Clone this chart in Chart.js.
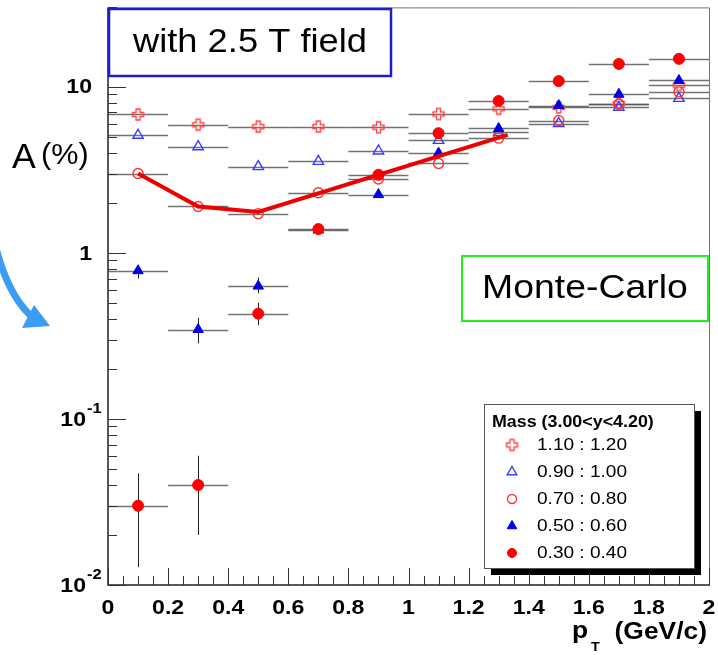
<!DOCTYPE html>
<html>
<head>
<meta charset="utf-8">
<script src="https://cdn.jsdelivr.net/npm/chart.js@4.4.1/dist/chart.umd.min.js"></script>
<style>
  html, body { margin: 0; padding: 0; background: #fff; }
  #wrap { width: 718px; height: 655px; position: relative; }
</style>
</head>
<body>
<div id="wrap"><canvas id="chart"></canvas></div>
<script>
// pT bin centres (GeV/c), each bin is 0.2 wide
const ptBins = [0.1, 0.3, 0.5, 0.7, 0.9, 1.1, 1.3, 1.5, 1.7, 1.9];
const binHalf = 0.1;

// acceptance (%) per mass window
const accM110 = [6.8, 5.9, 5.75, 5.75, 5.7, 6.85, 7.35, 7.5, 7.9, 10.2];
const accM090 = [5.1, 4.35, 3.3, 3.55, 4.1, 4.75, 5.3, 6.0, 7.5, 8.5];
const accM070 = [3.0, 1.9, 1.72, 2.3, 2.78, 3.45, 4.9, 6.25, 7.85, 9.3];
const accM050 = [0.78, 0.345, 0.63, 1.37, 2.24, 3.98, 5.6, 7.7, 9.0, 10.9];
const accM030 = [0.030, 0.040, 0.43, 1.39, 2.95, 5.25, 8.2, 10.8, 13.7, 14.7];

// visible vertical errors (null = smaller than the marker)
const errLoM050 = [0.70, 0.285, 0.57, null, null, null, null, null, null, null];
const errHiM050 = [0.84, 0.405, 0.71, null, null, null, null, null, null, null];
const errLoM030 = [0.0128, 0.020, 0.367, 1.30, null, null, null, null, null, null];
const errHiM030 = [0.047, 0.060, 0.50, 1.48, null, null, null, null, null, null];

// hand-drawn red trend line
const trendPt = [0.1, 0.3, 0.5, 1.33];
const trendAcc = [3.0, 1.9, 1.76, 5.13];

const legendTitle = 'Mass (3.00<y<4.20)';
const legendLabels = ['1.10 : 1.20', '0.90 : 1.00', '0.70 : 0.80', '0.50 : 0.60', '0.30 : 0.40'];

const xTickValues = [0, 0.2, 0.4, 0.6, 0.8, 1, 1.2, 1.4, 1.6, 1.8, 2];
const xTickLabels = ['0', '0.2', '0.4', '0.6', '0.8', '1', '1.2', '1.4', '1.6', '1.8', '2'];
const yTickValues = [0.01, 0.1, 1, 10];
const yTickBase = ['10', '10', '1', '10'];
const yTickExp = ['-2', '-1', '', ''];

const FONT = '"Liberation Sans", Arial, Helvetica, sans-serif';
const SX = 1.1; // reference text is a bit wide

function makeCross(color) {
  const c = document.createElement('canvas');
  c.width = 15; c.height = 15;
  const g = c.getContext('2d');
  const m = 7.5, r = 5.5, w = 2;
  g.beginPath();
  g.moveTo(m - w, m - r); g.lineTo(m + w, m - r); g.lineTo(m + w, m - w);
  g.lineTo(m + r, m - w); g.lineTo(m + r, m + w); g.lineTo(m + w, m + w);
  g.lineTo(m + w, m + r); g.lineTo(m - w, m + r); g.lineTo(m - w, m + w);
  g.lineTo(m - r, m + w); g.lineTo(m - r, m - w); g.lineTo(m - w, m - w);
  g.closePath();
  g.strokeStyle = color; g.lineWidth = 1.4; g.stroke();
  return c;
}
const crossImg = makeCross('#ff4545');

const pts = arr => ptBins.map((x, i) => ({ x, y: arr[i] }));

const series = [
  { label: legendLabels[0], data: pts(accM110), pointStyle: crossImg, pointRadius: 6,
    borderColor: '#ff4545', backgroundColor: 'rgba(0,0,0,0)', borderWidth: 1.4, order: 5 },
  { label: legendLabels[1], data: pts(accM090), pointStyle: 'triangle', pointRadius: 6,
    borderColor: '#3a3aff', backgroundColor: 'rgba(0,0,0,0)', borderWidth: 1.4, order: 4 },
  { label: legendLabels[2], data: pts(accM070), pointStyle: 'circle', pointRadius: 5,
    borderColor: '#ff3030', backgroundColor: 'rgba(0,0,0,0)', borderWidth: 1.4, order: 3 },
  { label: legendLabels[3], data: pts(accM050), pointStyle: 'triangle', pointRadius: 6,
    borderColor: '#0000e6', backgroundColor: '#0000e6', borderWidth: 1, order: 2,
    errLo: errLoM050, errHi: errHiM050 },
  { label: legendLabels[4], data: pts(accM030), pointStyle: 'circle', pointRadius: 5.5,
    borderColor: '#ff0000', backgroundColor: '#ff0000', borderWidth: 1, order: 1,
    errLo: errLoM030, errHi: errHiM030 },
];

function txt(ctx, str, x, y, font, align, sx) {
  sx = sx || SX;
  ctx.save();
  ctx.font = font;
  ctx.textBaseline = 'middle';
  ctx.textAlign = align || 'left';
  ctx.translate(x, y);
  ctx.scale(sx, 1);
  ctx.fillText(str, 0, 0);
  const w = ctx.measureText(str).width * sx;
  ctx.restore();
  return w;
}

function drawMarker(ctx, ds, x, y, r) {
  ctx.save();
  ctx.lineWidth = ds.borderWidth;
  ctx.strokeStyle = ds.borderColor;
  ctx.fillStyle = ds.backgroundColor;
  if (ds.pointStyle === 'circle') {
    ctx.beginPath(); ctx.arc(x, y, r, 0, Math.PI * 2);
    ctx.fill(); ctx.stroke();
  } else if (ds.pointStyle === 'triangle') {
    ctx.beginPath();
    ctx.moveTo(x, y - r);
    ctx.lineTo(x + r * 0.87, y + r * 0.5);
    ctx.lineTo(x - r * 0.87, y + r * 0.5);
    ctx.closePath(); ctx.fill(); ctx.stroke();
  } else {
    ctx.drawImage(ds.pointStyle, x - ds.pointStyle.width / 2, y - ds.pointStyle.height / 2);
  }
  ctx.restore();
}

const rootDecor = {
  id: 'rootDecor',
  beforeDatasetsDraw(chart) {
    const { ctx, scales: { x, y } } = chart;
    ctx.save();
    // horizontal bin-width bars
    series.forEach(ds => {
      ds.data.forEach(p => {
        const py = Math.round(y.getPixelForValue(p.y)) + 0.5;
        ctx.strokeStyle = 'rgba(80,80,80,0.8)';
        ctx.lineWidth = 1.5;
        ctx.beginPath();
        ctx.moveTo(x.getPixelForValue(p.x - binHalf), py);
        ctx.lineTo(x.getPixelForValue(p.x + binHalf), py);
        ctx.stroke();
      });
      if (ds.errLo) {
        ds.data.forEach((p, i) => {
          if (ds.errLo[i] == null) return;
          const px = Math.round(x.getPixelForValue(p.x)) + 0.5;
          ctx.strokeStyle = '#222';
          ctx.lineWidth = 1;
          ctx.beginPath();
          ctx.moveTo(px, y.getPixelForValue(ds.errLo[i]));
          ctx.lineTo(px, y.getPixelForValue(ds.errHi[i]));
          ctx.stroke();
        });
      }
    });
    ctx.restore();
  },
  afterDraw(chart) {
    const { ctx, chartArea: a, scales: { x, y } } = chart;
    ctx.save();

    // frame
    ctx.strokeStyle = '#777';
    ctx.lineWidth = 1;
    ctx.beginPath();
    ctx.moveTo(a.left, a.top + 0.5); ctx.lineTo(a.right + 0.5, a.top + 0.5);
    ctx.lineTo(a.right + 0.5, a.bottom);
    ctx.stroke();
    ctx.strokeStyle = '#222';
    ctx.lineWidth = 1.5;
    ctx.beginPath();
    ctx.moveTo(a.left, a.top); ctx.lineTo(a.left, a.bottom); ctx.lineTo(a.right + 1, a.bottom);
    ctx.stroke();

    // y ticks (log)
    ctx.lineWidth = 1;
    ctx.strokeStyle = '#333';
    for (let e = -2; e <= 1; e++) {
      for (let m = 1; m <= 9; m++) {
        const v = m * Math.pow(10, e);
        if (v > y.max) break;
        const py = Math.round(y.getPixelForValue(v)) + 0.5;
        const len = m === 1 ? 18 : 9;
        ctx.beginPath(); ctx.moveTo(a.left, py); ctx.lineTo(a.left + len, py); ctx.stroke();
      }
    }
    // x ticks
    for (let i = 0; i <= 40; i++) {
      const px = Math.round(x.getPixelForValue(i * 0.05)) + 0.5;
      const len = i % 4 === 0 ? 17 : 9;
      ctx.beginPath(); ctx.moveTo(px, a.bottom); ctx.lineTo(px, a.bottom - len); ctx.stroke();
    }

    // tick labels
    ctx.fillStyle = '#000';
    const tickFont = 'bold 21px ' + FONT;
    xTickValues.forEach((v, i) => {
      txt(ctx, xTickLabels[i], x.getPixelForValue(v), a.bottom + 23, tickFont, 'center');
    });
    yTickValues.forEach((v, i) => {
      const py = y.getPixelForValue(v);
      if (yTickExp[i]) {
        const right = a.left - 22;
        txt(ctx, yTickBase[i], right, py + 1, tickFont, 'right');
        txt(ctx, yTickExp[i], right + 1, py - 10, 'bold 15px ' + FONT, 'left');
      } else {
        txt(ctx, yTickBase[i], a.left - 16, py + 1, tickFont, 'right');
      }
    });

    // axis titles
    txt(ctx, '(GeV/c)', 707, 632, 'bold 24px ' + FONT, 'right');
    txt(ctx, 'T', 591, 647, 'bold 13px ' + FONT, 'left');
    txt(ctx, 'p', 572, 631, 'bold 24px ' + FONT, 'left');
    txt(ctx, 'A', 12, 158, '35px ' + FONT, 'left', 1.02);
    txt(ctx, '(%)', 41, 156, '30px ' + FONT, 'left', 1.02);

    // annotation boxes
    ctx.fillStyle = '#fff';
    ctx.fillRect(109, 9, 282, 67);
    ctx.strokeStyle = '#1c1cd0';
    ctx.lineWidth = 2.5;
    ctx.strokeRect(109, 9, 282, 67);
    ctx.fillStyle = '#000';
    txt(ctx, 'with 2.5 T field', 250, 43, '33px ' + FONT, 'center');

    ctx.fillStyle = '#fff';
    ctx.fillRect(462, 256, 246, 65);
    ctx.strokeStyle = '#22ee22';
    ctx.lineWidth = 2;
    ctx.strokeRect(462, 256, 246, 65);
    ctx.fillStyle = '#000';
    txt(ctx, 'Monte-Carlo', 585, 289, '34px ' + FONT, 'center');

    // legend with shadow
    const lx = 484, ly = 404, lw = 210, lh = 164;
    ctx.fillStyle = '#000';
    ctx.fillRect(lx + 7, ly + 7, lw, lh);
    ctx.fillStyle = '#fff';
    ctx.fillRect(lx, ly, lw, lh);
    ctx.strokeStyle = '#555';
    ctx.lineWidth = 1;
    ctx.strokeRect(lx + 0.5, ly + 0.5, lw, lh);
    ctx.fillStyle = '#000';
    txt(ctx, legendTitle, lx + 8, ly + 18, 'bold 17px ' + FONT, 'left', 1.05);
    series.forEach((ds, i) => {
      const ry = ly + 41 + i * 27;
      drawMarker(ctx, ds, lx + 28, ry, ds.pointStyle === 'triangle' ? 5.5 : 4.5);
      ctx.fillStyle = '#000';
      txt(ctx, ds.label, lx + 53, ry, '17px ' + FONT, 'left', 1.12);
    });

    // blue curved arrow at the left
    ctx.strokeStyle = '#3a9cf2';
    ctx.fillStyle = '#3a9cf2';
    ctx.lineWidth = 7;
    ctx.beginPath();
    ctx.moveTo(-6, 240);
    ctx.quadraticCurveTo(6, 292, 30, 315);
    ctx.stroke();
    ctx.beginPath();
    ctx.moveTo(22, 328); ctx.lineTo(34, 305); ctx.lineTo(50, 326);
    ctx.closePath(); ctx.fill();

    ctx.restore();
  }
};

const datasets = series.map(ds => ({
  label: ds.label,
  data: ds.data,
  pointStyle: ds.pointStyle,
  pointRadius: ds.pointRadius,
  pointBorderColor: ds.borderColor,
  pointBackgroundColor: ds.backgroundColor,
  pointBorderWidth: ds.borderWidth,
  showLine: false,
  order: ds.order,
}));
datasets.push({
  type: 'line',
  label: 'trend',
  data: trendPt.map((x, i) => ({ x, y: trendAcc[i] })),
  borderColor: '#ee0000',
  borderWidth: 4,
  pointRadius: 0,
  fill: false,
  tension: 0,
  order: 0,
});

new Chart(document.getElementById('chart'), {
  type: 'scatter',
  data: { datasets },
  options: {
    responsive: true,
    maintainAspectRatio: false,
    animation: false,
    devicePixelRatio: 1,
    layout: { padding: { left: 108, right: 9, top: 7, bottom: 70 } },
    scales: {
      x: { type: 'linear', min: 0, max: 2, display: false },
      y: { type: 'logarithmic', min: 0.01, max: 30, display: false },
    },
    plugins: {
      legend: { display: false },
      tooltip: { enabled: false },
    },
  },
  plugins: [rootDecor],
});
</script>
</body>
</html>
